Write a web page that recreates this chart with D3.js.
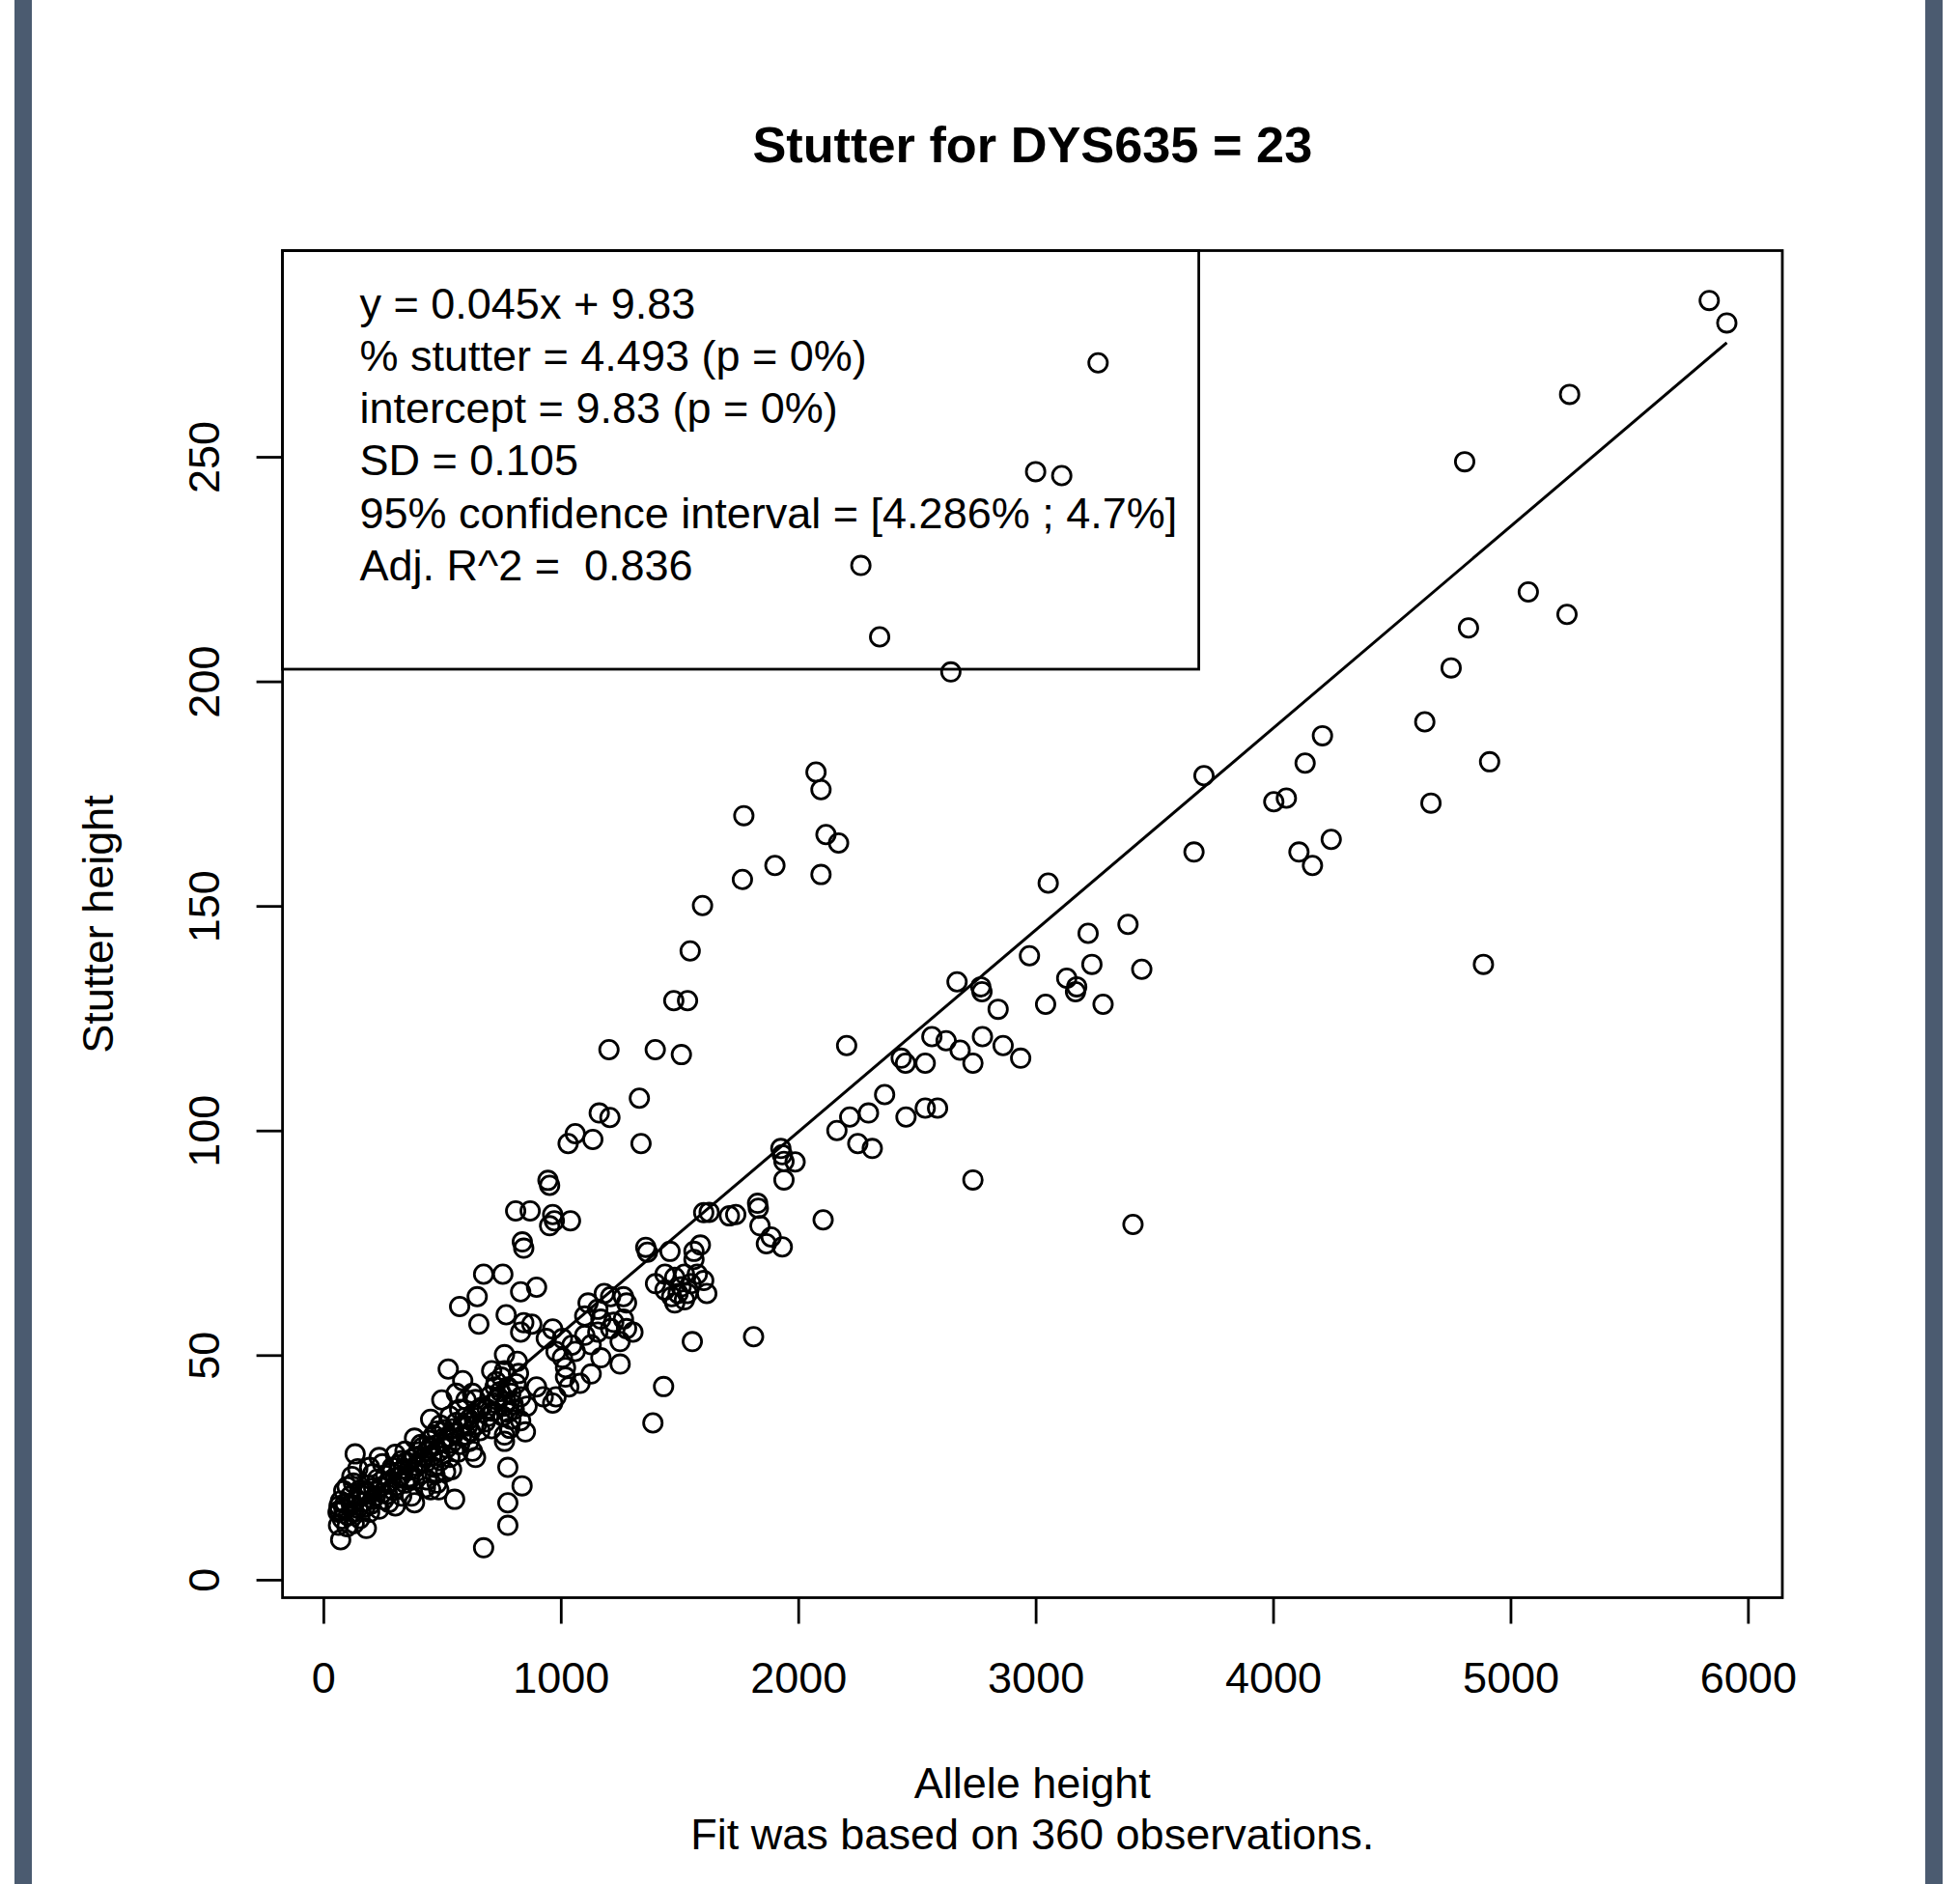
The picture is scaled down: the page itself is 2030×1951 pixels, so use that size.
<!DOCTYPE html>
<html>
<head>
<meta charset="utf-8">
<script src="https://cdn.jsdelivr.net/npm/d3@7"></script>
<style>
  html, body { margin: 0; padding: 0; background: #ffffff; }
  svg { display: block; }
  text { font-family: "Liberation Sans", Arial, Helvetica, sans-serif; fill: #000; white-space: pre; }
</style>
</head>
<body>
<svg id="chart" width="2030" height="1951"></svg>
<script>
// ---------------- data ----------------
const chartTitle = "Stutter for DYS635 = 23";
const xLabel = "Allele height";
const xSubLabel = "Fit was based on 360 observations.";
const yLabel = "Stutter height";
const xTicks = [0, 1000, 2000, 3000, 4000, 5000, 6000];
const yTicks = [0, 50, 100, 150, 200, 250];
const fitSlope = 0.04493;
const fitIntercept = 9.83;
const legendLines = [
  "y = 0.045x + 9.83",
  "% stutter = 4.493 (p = 0%)",
  "intercept = 9.83 (p = 0%)",
  "SD = 0.105",
  "95% confidence interval = [4.286% ; 4.7%]",
  "Adj. R^2 =  0.836"
];

// allele height (x) and stutter height (y), grouped by region of the plot
const pointsUpper = [
  [5837,284.8],[5911,279.8],[3263,270.9],[5249,263.9],[4807,248.9],[3000,246.7],[3110,245.8],[2264,225.8],
  [5075,219.9],[5238,214.9],[4823,211.9],[2343,209.9],[4750,203.0],[2643,202.1],[4639,191.0],[4208,187.9],
  [4135,181.8],[4912,182.1],[3709,179.0],[2075,179.8],[2096,175.9],[4003,173.2],[4056,174.0],[4665,172.9],
  [1771,170.1],[2117,165.9],[2170,164.0],[4245,164.8],[3667,162.0],[4109,162.0],[4166,159.0],[1902,159.0],
  [2096,157.0],[1765,155.9],[3053,155.1],[1597,150.1],[3389,145.9],[3221,143.9],[1545,140.0],[3447,135.9],
  [4886,137.0],[3237,137.0],[2669,133.1],[3131,133.9],[2769,132.0],[3173,132.0],[2774,130.9],[3168,130.9],
  [2974,138.9],[1476,128.9],[1534,128.9],[3042,128.1],[3284,128.1],[2842,127.0]
];
const pointsMidRight = [
  [2204,118.9],[2563,120.9],[2623,120.0],[2682,117.9],[2736,115.0],[2776,120.9],[2434,116.1],[2452,115.0],
  [2535,115.0],[2364,108.0],[2296,103.9],[2217,103.0],[2454,103.0],[2535,105.0],[2587,105.0],[2163,100.0],
  [2251,97.1],[2312,96.0],[1927,96.0],[1933,94.6],[1940,93.1],[1987,93.0],[1940,89.0],[2736,89.0],
  [2105,80.1],[1829,83.8],[1832,82.7],[1839,78.8],[1886,76.3],[1866,74.8],[1933,74.1],[2937,116.1],
  [2863,118.9],[3410,79.1]
];
const pointsMidLeft = [
  [1331,107.2],[1338,97.1],[1162,103.9],[1207,102.9],[1061,99.3],[1031,97.1],[1135,98.0],[946,88.9],
  [953,87.8],[810,82.1],[871,82.1],[966,81.3],[973,79.9],[953,78.8],[1041,79.9],[838,75.2],
  [844,73.8],[1358,74.0],[1365,72.9],[1203,118.0],[1398,118.0],[1508,116.9]
];
const pointsCentre = [
  [1602,81.7],[1625,81.8],[1710,81.0],[1737,81.3],
  [1460,73.1],[1588,74.5],[1561,73.1],[1561,71.3],[1399,65.9],[1439,68.0],[1480,67.3],[1521,68.0],
  [1575,68.0],[1602,66.6],[1615,63.7],[1439,64.5],[1467,63.0],[1494,63.7],[1507,65.2],[1534,63.7],
  [1521,62.3],[1480,61.6],[1548,65.9],[1264,63.0],[1277,61.6],[1183,63.7],[1210,63.0],[1115,61.6],
  [1156,60.2],[1101,58.7],[1169,58.0],[1223,57.3],[1264,58.0],[1277,55.9],[1304,55.1],[1210,55.9],
  [1156,55.1],[1101,54.4],[1128,52.3],[1250,53.0],[1169,49.4],[1250,48.0],[1128,45.8],[1081,43.7],
  [1554,53.0],[1812,54.1],[1433,43.0],[1388,34.9]
];
const pointsLowMid = [
  [675,68.0],[756,68.0],[831,64.1],[898,65.1],[648,63.0],[574,60.8],[655,56.9],[770,59.0],
  [844,57.2],[878,56.9],[831,55.1],[966,55.8],[939,53.7],[1007,53.7],[1047,52.2],[980,50.8],
  [1007,49.4],[1020,47.2],[1061,50.8],[1020,45.1],[1034,42.9],[980,40.7],[966,39.3],[898,42.9],
  [926,40.7],[763,50.1],[817,48.6],[709,46.5],[750,45.1],[777,42.9],[723,42.9],[736,40.7],
  [790,41.5],[831,40.7],[858,38.6],[804,37.9],[763,38.6],[790,35.7],[831,35.4],[526,46.9],
  [587,44.3],[499,40.0],[560,41.5],[601,40.0],[628,41.5],[655,37.9],[574,37.9],[533,36.4],
  [452,35.7],[614,35.7],[696,36.4],[723,39.3],[763,46.5],[641,40.1],[493,34.4],[587,34.4],
  [682,35.1],[777,37.2],[837,20.9],[851,32.9]
];
const pointsLow = [
  [73,8.9],[64,12.1],[100,11.8],[181,11.4],[68,15.4],[87,15.7],[127,15.0],[72,17.5],
  [114,18.6],[154,20.0],[168,17.2],[208,17.9],[235,15.7],[195,15.0],[249,19.3],[269,21.5],
  [208,23.6],[249,25.8],[290,25.0],[317,22.9],[276,17.2],[303,16.4],[330,18.6],[371,18.6],
  [344,21.5],[384,22.2],[357,24.3],[384,27.2],[425,27.2],[465,25.0],[438,22.2],[486,20.0],
  [479,21.5],[384,31.5],[411,30.1],[452,29.3],[465,32.2],[506,31.5],[520,29.3],[533,27.2],
  [493,26.5],[574,30.1],[614,30.8],[628,28.6],[641,27.2],[601,32.2],[547,33.6],[709,33.6],
  [763,32.2],[763,30.8],[134,28.0],[777,25.0],[553,17.9],[384,17.1],[777,17.1],[777,12.1],
  [675,7.1],[62,15.0],[66,16.4],[154,13.6],[127,21.5],[195,25.0],[235,27.2],[303,27.9],
  [330,26.5],[411,23.6],[452,20.0],[438,28.6],[344,28.6]
];
const pointsDenseBand = [
  [80,13.5],[92,17.0],[105,14.2],[118,16.8],[140,17.8],[146,15.9],[160,18.9],[175,16.1],
  [182,19.6],[190,21.0],[200,16.8],[212,20.4],[220,18.6],[228,22.4],[240,20.6],[255,17.8],
  [262,23.2],[270,19.0],[282,21.8],[288,23.9],[296,19.8],[310,21.0],[318,25.6],[325,23.0],
  [338,24.7],[350,26.2],[362,22.9],[370,26.8],[378,24.5],[395,25.3],[400,28.4],[408,26.1],
  [418,29.5],[430,26.0],[445,31.0],[458,27.6],[470,29.9],[478,33.1],[488,28.5],[498,30.6],
  [510,33.4],[525,31.8],[540,30.4],[552,32.6],[560,35.0],[568,28.4],[582,31.9],[595,36.1],
  [608,34.2],[620,33.0],[632,37.0],[645,34.5],[660,33.2],[668,38.4],[690,38.0],[702,40.9],
  [715,37.5],[728,44.1],[745,41.9],[756,36.4],[770,39.6],[785,33.7],[800,39.0],[812,43.6],
  [822,45.9],[540,24.5],[515,24.0],[470,23.5],[430,20.5],[120,23.0],[145,24.7],[100,20.7],
  [86,19.8],[130,12.5]
];

// ---------------- layout ----------------
const W = 2030, H = 1951;
const box = { left: 292.6, right: 1846, top: 259.5, bottom: 1654.5 };

const points = [].concat(pointsUpper, pointsMidRight, pointsMidLeft, pointsCentre,
                         pointsLowMid, pointsLow, pointsDenseBand);

const svg = d3.select("#chart");
svg.append("rect").attr("x", 0).attr("y", 0).attr("width", W).attr("height", H).attr("fill", "#ffffff");

// side bars of the page
svg.append("rect").attr("x", 15).attr("y", 0).attr("width", 18).attr("height", H).attr("fill", "#4b5b70");
svg.append("rect").attr("x", 1994).attr("y", 0).attr("width", 18).attr("height", H).attr("fill", "#4b5b70");

// R-style 4% extension of the data range
const xExt = d3.extent(points, d => d[0]);
const yExt = d3.extent(points, d => d[1]);
const xPad = (xExt[1] - xExt[0]) * 0.04;
const yPad = (yExt[1] - yExt[0]) * 0.04;
const x = d3.scaleLinear().domain([xExt[0] - xPad, xExt[1] + xPad]).range([box.left, box.right]);
const y = d3.scaleLinear().domain([yExt[0] - yPad, yExt[1] + yPad]).range([box.bottom, box.top]);

const lw = 2.8;
const fontStack = '"Liberation Sans", Arial, sans-serif';

// axes
const xAxis = svg.append("g").attr("transform", `translate(0,${box.bottom})`)
  .call(d3.axisBottom(x).tickValues(xTicks).tickFormat(d3.format("d")).tickSize(27).tickSizeOuter(0));
xAxis.select(".domain").remove();
xAxis.selectAll(".tick line").attr("stroke", "#000").attr("stroke-width", lw);
xAxis.selectAll(".tick text").attr("y", 98.5).attr("dy", null)
  .style("font-size", "45px").style("font-family", fontStack).attr("fill", "#000");

const yAxis = svg.append("g").attr("transform", `translate(${box.left},0)`)
  .call(d3.axisLeft(y).tickValues(yTicks).tickFormat(d3.format("d")).tickSize(27).tickSizeOuter(0));
yAxis.select(".domain").remove();
yAxis.selectAll(".tick line").attr("stroke", "#000").attr("stroke-width", lw);
yAxis.selectAll(".tick text").attr("x", null).attr("dy", null)
  .attr("text-anchor", "middle")
  .attr("transform", "translate(-65.5,0) rotate(-90)")
  .style("font-size", "45px").style("font-family", fontStack).attr("fill", "#000");

// points
svg.append("g").selectAll("circle").data(points).join("circle")
  .attr("cx", d => x(d[0])).attr("cy", d => y(d[1])).attr("r", 9.6)
  .attr("fill", "none").attr("stroke", "#000").attr("stroke-width", lw);

// fitted line
const fitX = [xExt[0], xExt[1]];
svg.append("path")
  .datum(fitX.map(v => [v, fitIntercept + fitSlope * v]))
  .attr("d", d3.line().x(d => x(d[0])).y(d => y(d[1])))
  .attr("fill", "none").attr("stroke", "#000").attr("stroke-width", lw + 0.2);

// legend box
const legendX0 = box.left, legendY0 = box.top;
svg.append("rect").attr("x", legendX0).attr("y", legendY0).attr("width", 949).attr("height", 433.5)
  .attr("fill", "none").attr("stroke", "#000").attr("stroke-width", lw);
svg.append("g").selectAll("text").data(legendLines).join("text")
  .attr("x", 372.5).attr("y", (d, i) => 329.5 + i * 54.3)
  .attr("xml:space", "preserve")
  .style("font-size", "45px").text(d => d);

// plot box
svg.append("rect").attr("x", box.left).attr("y", box.top)
  .attr("width", box.right - box.left).attr("height", box.bottom - box.top)
  .attr("fill", "none").attr("stroke", "#000").attr("stroke-width", lw);

// titles
const cx = (box.left + box.right) / 2;
svg.append("text").attr("x", cx).attr("y", 168).attr("text-anchor", "middle")
  .style("font-size", "52.3px").style("font-weight", "bold").text(chartTitle);
svg.append("text").attr("x", cx).attr("y", 1862).attr("text-anchor", "middle")
  .style("font-size", "45px").text(xLabel);
svg.append("text").attr("x", cx).attr("y", 1915).attr("text-anchor", "middle")
  .style("font-size", "45px").text(xSubLabel);
svg.append("text").attr("text-anchor", "middle")
  .attr("transform", `translate(117,${(box.top + box.bottom) / 2}) rotate(-90)`)
  .style("font-size", "45px").text(yLabel);
</script>
</body>
</html>
